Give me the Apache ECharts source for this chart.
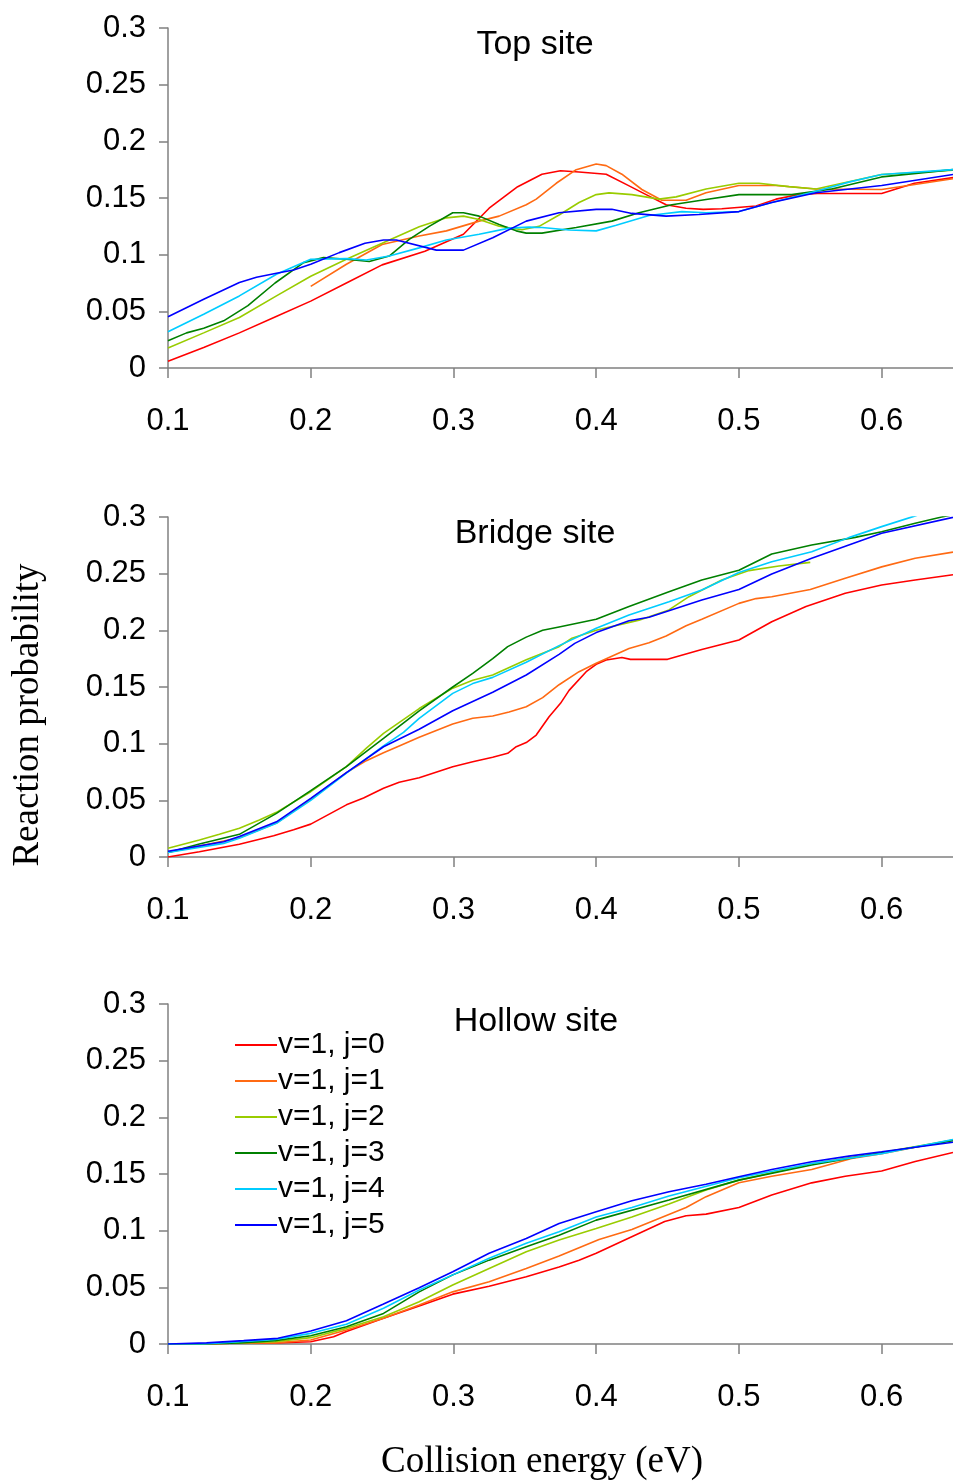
<!DOCTYPE html>
<html>
<head>
<meta charset="utf-8">
<script src="https://cdn.jsdelivr.net/npm/echarts@6/dist/echarts.min.js"></script>
<style>
html,body{margin:0;padding:0;background:#fff;}
#chart{width:953px;height:1481px;}
</style>
</head>
<body>
<div id="chart"></div>
<script>
// ---------- DATA ----------
const seriesNames = ['v=1, j=0','v=1, j=1','v=1, j=2','v=1, j=3','v=1, j=4','v=1, j=5'];
const panelTitles = ['Top site','Bridge site','Hollow site'];
const xTicks = [0.1,0.2,0.3,0.4,0.5,0.6];
const yTicks = [0,0.05,0.1,0.15,0.2,0.25,0.3];

// Top site
const topE0 = [0.1,0.125,0.15,0.175,0.2,0.225,0.25,0.28,0.307,0.325,0.345,0.362,0.375,0.388,0.407,0.421,0.435,0.449,0.463,0.475,0.488,0.512,0.526,0.542,0.555,0.6,0.623,0.65];
const topP0 = [0.006,0.018,0.031,0.045,0.059,0.075,0.091,0.103,0.118,0.141,0.160,0.171,0.174,0.173,0.171,0.162,0.153,0.144,0.141,0.140,0.1405,0.143,0.149,0.153,0.154,0.154,0.163,0.168];
const topE1 = [0.2,0.225,0.25,0.276,0.295,0.318,0.332,0.351,0.358,0.372,0.386,0.4,0.407,0.418,0.432,0.446,0.463,0.477,0.5,0.526,0.554,0.6,0.65];
const topP1 = [0.072,0.0915,0.109,0.1164,0.121,0.1296,0.134,0.144,0.149,0.163,0.175,0.180,0.1786,0.171,0.1575,0.148,0.148,0.1546,0.161,0.161,0.158,0.1575,0.167];
const topE2 = [0.1,0.125,0.15,0.176,0.2,0.225,0.25,0.276,0.295,0.307,0.318,0.332,0.348,0.36,0.374,0.388,0.4,0.409,0.425,0.444,0.456,0.477,0.5,0.514,0.535,0.554,0.6,0.65];
const topP2 = [0.0176,0.031,0.0446,0.0636,0.081,0.096,0.110,0.1246,0.1325,0.134,0.131,0.125,0.122,0.125,0.135,0.146,0.153,0.1545,0.153,0.149,0.151,0.158,0.163,0.163,0.160,0.158,0.1707,0.1745];
const topE3 = [0.1,0.113,0.125,0.139,0.156,0.175,0.195,0.209,0.225,0.241,0.255,0.269,0.283,0.2995,0.307,0.318,0.332,0.344,0.351,0.362,0.386,0.411,0.43,0.453,0.477,0.5,0.537,0.565,0.6,0.65];
const topP3 = [0.024,0.031,0.035,0.0416,0.055,0.075,0.093,0.0974,0.096,0.094,0.0988,0.1135,0.125,0.137,0.137,0.134,0.1267,0.121,0.119,0.119,0.124,0.1296,0.137,0.144,0.1487,0.153,0.153,0.158,0.1686,0.175];
const topE4 = [0.1,0.125,0.15,0.176,0.2,0.225,0.239,0.255,0.276,0.295,0.318,0.339,0.353,0.362,0.381,0.4,0.414,0.437,0.46,0.477,0.5,0.523,0.554,0.577,0.6,0.65];
const topP4 = [0.032,0.0475,0.0636,0.0827,0.096,0.0965,0.0953,0.0988,0.106,0.113,0.118,0.1234,0.1243,0.124,0.1217,0.121,0.126,0.1346,0.138,0.137,0.138,0.146,0.156,0.164,0.1707,0.175];
const topE5 = [0.1,0.125,0.15,0.162,0.176,0.188,0.2,0.22,0.238,0.251,0.26,0.288,0.307,0.3275,0.351,0.374,0.4,0.411,0.425,0.449,0.472,0.5,0.523,0.554,0.6,0.65];
const topP5 = [0.0452,0.0607,0.0754,0.080,0.0836,0.0865,0.0915,0.1018,0.110,0.113,0.113,0.104,0.104,0.115,0.1296,0.137,0.140,0.140,0.1364,0.134,0.1355,0.138,0.146,0.1546,0.161,0.1707];

// Bridge site
const brE0 = [0.1,0.122,0.15,0.174,0.188,0.2,0.225,0.237,0.251,0.262,0.276,0.2995,0.3135,0.3275,0.338,0.344,0.351,0.358,0.367,0.375,0.381,0.393,0.4,0.407,0.418,0.424,0.45,0.474,0.5,0.523,0.547,0.5745,0.6,0.6235,0.65];
const brP0 = [0,0.0047,0.0112,0.0188,0.024,0.029,0.046,0.052,0.0606,0.066,0.070,0.0797,0.084,0.088,0.0915,0.0973,0.101,0.1076,0.1238,0.1356,0.147,0.1635,0.170,0.1738,0.176,0.1744,0.1744,0.183,0.1915,0.2076,0.221,0.2327,0.240,0.2444,0.249];
const brE1 = [0.1,0.15,0.176,0.2,0.225,0.239,0.251,0.262,0.276,0.2995,0.3135,0.3275,0.339,0.351,0.3625,0.374,0.388,0.4,0.423,0.437,0.449,0.463,0.474,0.5,0.512,0.523,0.55,0.5745,0.6,0.6235,0.65];
const brP1 = [0.004,0.017,0.030,0.051,0.0744,0.085,0.092,0.098,0.1056,0.1174,0.1224,0.1244,0.128,0.1326,0.1406,0.152,0.1635,0.171,0.184,0.189,0.195,0.204,0.2097,0.2238,0.228,0.2297,0.236,0.246,0.256,0.2636,0.269];
const brE2 = [0.1,0.122,0.136,0.15,0.164,0.176,0.2,0.225,0.239,0.251,0.276,0.2995,0.3135,0.3275,0.351,0.374,0.383,0.4,0.43,0.451,0.465,0.488,0.507,0.528,0.55];
const brP2 = [0.0077,0.015,0.020,0.0253,0.0326,0.0394,0.0576,0.0797,0.096,0.109,0.131,0.149,0.156,0.1606,0.174,0.1856,0.193,0.200,0.209,0.218,0.2297,0.2444,0.2527,0.2568,0.260];
const brE3 = [0.1,0.122,0.15,0.176,0.2,0.225,0.251,0.276,0.2995,0.3135,0.3275,0.338,0.351,0.3625,0.374,0.4,0.423,0.451,0.474,0.5,0.523,0.551,0.5815,0.6,0.6235,0.642,0.65];
const brP3 = [0.004,0.0115,0.020,0.0385,0.0585,0.0797,0.1047,0.129,0.150,0.162,0.175,0.1856,0.194,0.200,0.203,0.2097,0.221,0.234,0.2444,0.253,0.2674,0.2753,0.282,0.287,0.2944,0.300,0.302];
const brE4 = [0.1,0.139,0.15,0.176,0.2,0.225,0.251,0.265,0.276,0.2995,0.3135,0.3275,0.351,0.374,0.4,0.423,0.451,0.474,0.5,0.523,0.551,0.577,0.6,0.6235,0.65];
const brP4 = [0.004,0.012,0.0165,0.0297,0.050,0.074,0.098,0.110,0.1224,0.1444,0.153,0.1585,0.1718,0.1865,0.2018,0.2135,0.2253,0.2356,0.251,0.2606,0.2694,0.2818,0.2915,0.301,0.311];
const brE5 = [0.1,0.139,0.15,0.176,0.2,0.225,0.251,0.276,0.2995,0.3275,0.351,0.374,0.385,0.4,0.423,0.437,0.474,0.5,0.523,0.551,0.577,0.6,0.65];
const brP5 = [0.005,0.0135,0.018,0.031,0.0518,0.0744,0.0973,0.1127,0.129,0.1453,0.1606,0.1788,0.1885,0.198,0.2085,0.2115,0.2268,0.236,0.2497,0.2636,0.2753,0.2856,0.2997];

// Hollow site
const hoE0 = [0.1,0.125,0.15,0.175,0.2,0.216,0.225,0.251,0.276,0.2995,0.325,0.351,0.374,0.388,0.4,0.42,0.448,0.463,0.477,0.5,0.523,0.551,0.5745,0.6,0.6235,0.65];
const hoP0 = [0,0,0.001,0.001,0.002,0.0064,0.011,0.0227,0.0335,0.044,0.051,0.0593,0.068,0.074,0.080,0.0917,0.108,0.1131,0.1146,0.1205,0.1314,0.1422,0.148,0.1526,0.161,0.169];
const hoE1 = [0.1,0.125,0.15,0.175,0.2,0.225,0.251,0.276,0.2995,0.325,0.351,0.374,0.388,0.402,0.425,0.463,0.477,0.5,0.523,0.551,0.579,0.6,0.65];
const hoP1 = [0,0,0.001,0.001,0.0035,0.0123,0.0227,0.0344,0.046,0.055,0.0667,0.0776,0.085,0.0923,0.101,0.1205,0.130,0.1422,0.148,0.154,0.1637,0.168,0.180];
const hoE2 = [0.1,0.125,0.15,0.175,0.2,0.225,0.251,0.276,0.2995,0.325,0.351,0.374,0.4,0.425,0.451,0.477,0.5,0.551,0.6,0.65];
const hoP2 = [0,0,0.001,0.002,0.0056,0.0138,0.024,0.0373,0.052,0.0667,0.0814,0.0917,0.102,0.112,0.1235,0.1358,0.1446,0.159,0.169,0.180];
const hoE3 = [0.1,0.125,0.15,0.175,0.2,0.225,0.251,0.276,0.2995,0.325,0.351,0.374,0.4,0.451,0.5,0.551,0.6,0.65];
const hoP3 = [0,0,0.001,0.003,0.0073,0.0153,0.027,0.046,0.061,0.074,0.0858,0.096,0.1093,0.127,0.1446,0.158,0.1687,0.1793];
const hoE4 = [0.1,0.125,0.15,0.175,0.2,0.225,0.251,0.276,0.2995,0.325,0.351,0.374,0.4,0.425,0.451,0.5,0.551,0.6,0.65];
const hoP4 = [0,0,0.002,0.004,0.0094,0.0174,0.0315,0.0476,0.061,0.0756,0.0888,0.099,0.112,0.1205,0.1305,0.1467,0.1593,0.168,0.1805];
const hoE5 = [0.1,0.127,0.153,0.177,0.2,0.225,0.2506,0.276,0.2995,0.325,0.351,0.374,0.4,0.425,0.451,0.477,0.5,0.523,0.551,0.577,0.6,0.65];
const hoP5 = [0,0.001,0.003,0.005,0.0115,0.0206,0.035,0.0497,0.0638,0.080,0.093,0.1064,0.1167,0.1264,0.1343,0.141,0.1476,0.154,0.1608,0.1658,0.1696,0.178];

// ---------- STYLE / LAYOUT ----------
const colors = ['#ff0000','#ff6a13','#99cc00','#008000','#00ccff','#0000ff'];
const panels = [
  {E:[topE0,topE1,topE2,topE3,topE4,topE5], P:[topP0,topP1,topP2,topP3,topP4,topP5]},
  {E:[brE0,brE1,brE2,brE3,brE4,brE5], P:[brP0,brP1,brP2,brP3,brP4,brP5]},
  {E:[hoE0,hoE1,hoE2,hoE3,hoE4,hoE5], P:[hoP0,hoP1,hoP2,hoP3,hoP4,hoP5]}
];
const gridTops = [28, 517, 1004];
const gridH = 340;
const axisColor = '#808080';
const sans = 'Liberation Sans, Arial, sans-serif';
const serif = 'Liberation Serif, Times New Roman, serif';

const grids = [], xAxes = [], yAxes = [], series = [];
gridTops.forEach((t, gi) => {
  grids.push({left:168, top:t, width:786, height:gridH, containLabel:false});
  xAxes.push({
    type:'value', gridIndex:gi, min:0.1, max:0.65, interval:0.1,
    axisLine:{show:true, onZero:false, lineStyle:{color:axisColor, width:1.5}},
    axisTick:{show:true, inside:false, length:10, lineStyle:{color:axisColor, width:1.5}},
    axisLabel:{show:true, margin:38, fontSize:31, fontFamily:sans, color:'#000', showMaxLabel:false,
      formatter:v => (xTicks.some(t=>Math.abs(t-v)<1e-6) ? String(+v.toFixed(2)) : '')},
    splitLine:{show:false}
  });
  yAxes.push({
    type:'value', gridIndex:gi, min:0, max:0.3, interval:0.05,
    axisLine:{show:true, lineStyle:{color:axisColor, width:1.5}},
    axisTick:{show:true, inside:false, length:9, lineStyle:{color:axisColor, width:1.5}},
    axisLabel:{show:true, margin:22, fontSize:31, fontFamily:sans, color:'#000',
      formatter:v => String(+v.toFixed(2))},
    splitLine:{show:false}
  });
  const p = panels[gi];
  for (let s = 0; s < 6; s++) {
    series.push({
      name: seriesNames[s], type:'line', xAxisIndex:gi, yAxisIndex:gi,
      showSymbol:false, symbol:'none', clip:true, animation:false,
      lineStyle:{color:colors[s], width:1.6},
      itemStyle:{color:colors[s]},
      data: p.E[s].map((e,i)=>[e, p.P[s][i]])
    });
  }
});

const chart = echarts.init(document.getElementById('chart'), null, {renderer:'canvas'});
chart.setOption({
  animation:false,
  backgroundColor:'#fff',
  grid:grids, xAxis:xAxes, yAxis:yAxes, series:series,
  legend:{
    show:true, orient:'vertical', left:230, top:1022,
    data:seriesNames, icon:'rect', itemWidth:42, itemHeight:2, itemGap:0,
    textStyle:{fontSize:30, fontFamily:sans, color:'#000', lineHeight:36, padding:[0,0,0,-4]},
    selectedMode:false
  },
  graphic:[
    {type:'text', x:535, y:45, style:{text:panelTitles[0], font:'34px '+sans, fill:'#000', align:'center', verticalAlign:'middle'}},
    {type:'text', x:535, y:534, style:{text:panelTitles[1], font:'34px '+sans, fill:'#000', align:'center', verticalAlign:'middle'}},
    {type:'text', x:536, y:1022, style:{text:panelTitles[2], font:'34px '+sans, fill:'#000', align:'center', verticalAlign:'middle'}},
    {type:'text', x:28, y:715, rotation:Math.PI/2, style:{text:'Reaction probability', font:'37px '+serif, fill:'#000', align:'center', verticalAlign:'middle'}},
    {type:'text', x:542, y:1462, style:{text:'Collision energy (eV)', font:'37px '+serif, fill:'#000', align:'center', verticalAlign:'middle'}}
  ]
});
</script>
</body>
</html>
